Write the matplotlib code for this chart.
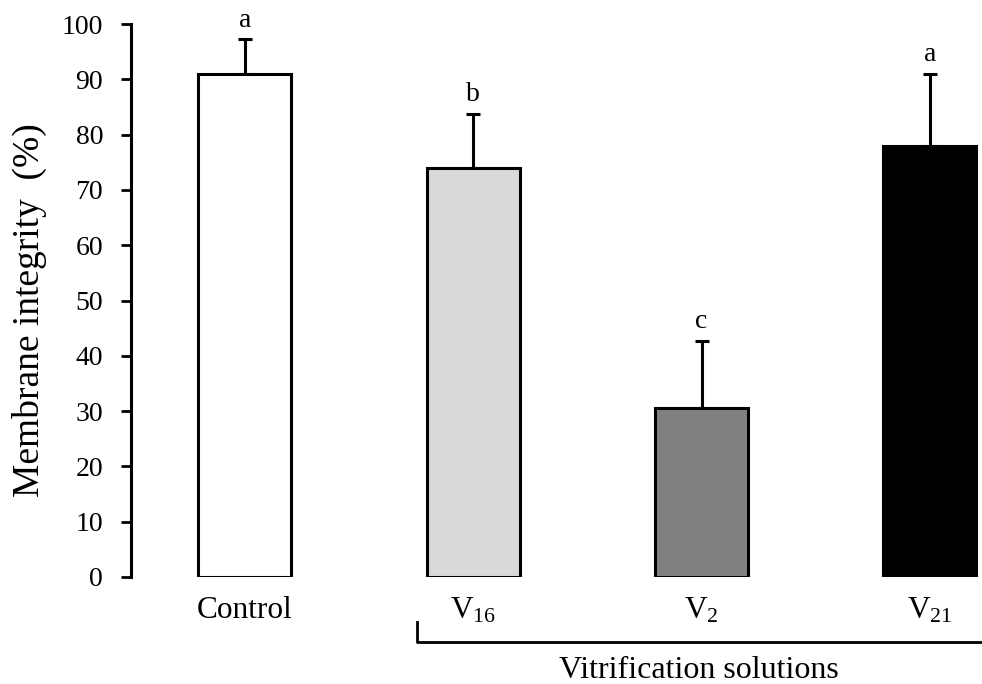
import matplotlib as mpl
mpl.use('Agg')
import matplotlib.pyplot as plt
from matplotlib.lines import Line2D
import numpy as np

plt.rcParams['font.family'] = ['Liberation Serif', 'DejaVu Serif']
plt.rcParams['mathtext.fontset'] = 'custom'
plt.rcParams['mathtext.rm'] = 'Liberation Serif'
plt.rcParams['mathtext.default'] = 'regular'

# data
labels = ['Control', 'V$_{16}$', 'V$_{2}$', 'V$_{21}$']
means = [91, 74, 30.5, 78]
errs = [6.2, 9.8, 12.2, 13.0]
letters = ['a', 'b', 'c', 'a']
colors = ['white', '#d9d9d9', '#808080', 'black']

fig = plt.figure(figsize=(9.82, 6.84), dpi=100)
ax = fig.add_axes([131 / 982, 107 / 684, 851 / 982, 553 / 684])

x = np.arange(len(means))
ax.bar(x, means, width=0.407, color=colors, edgecolor='black', linewidth=2.2, zorder=2)
ax.errorbar(x, means, yerr=[np.zeros(len(errs)), errs], fmt='none', ecolor='black',
            elinewidth=2.2, capsize=5, capthick=2.2, zorder=1)

for xi, m, e, l in zip(x, means, errs, letters):
    ax.annotate(l, (xi, m + e), xytext=(0, 5), textcoords='offset points',
                ha='center', va='bottom', fontsize=20)

ax.set_xlim(-0.499, 3.228)
ax.set_ylim(0, 100)
ax.set_yticks(np.arange(0, 101, 10))
ax.set_xticks(x)
ax.set_xticklabels(labels, fontsize=22.5)
ax.tick_params(axis='x', length=0, pad=14)
ax.tick_params(axis='y', direction='out', length=7, width=2, labelsize=20, pad=13)

for s in ['top', 'right', 'bottom']:
    ax.spines[s].set_visible(False)
ax.spines['left'].set_linewidth(2.2)

ax.set_ylabel('Membrane integrity  (%)', fontsize=27)
ax.yaxis.set_label_coords(-0.099, 0.483)

# bracket for vitrification solutions
W, H = 982, 684
fig.add_artist(Line2D([417 / W, 417 / W, 1.0], [1 - 622 / H, 1 - 642 / H, 1 - 642 / H],
                      color='black', linewidth=2))
fig.text(699 / W, 1 - 671 / H, 'Vitrification solutions', ha='center', va='center', fontsize=23)

plt.savefig('out.png', dpi=100)
